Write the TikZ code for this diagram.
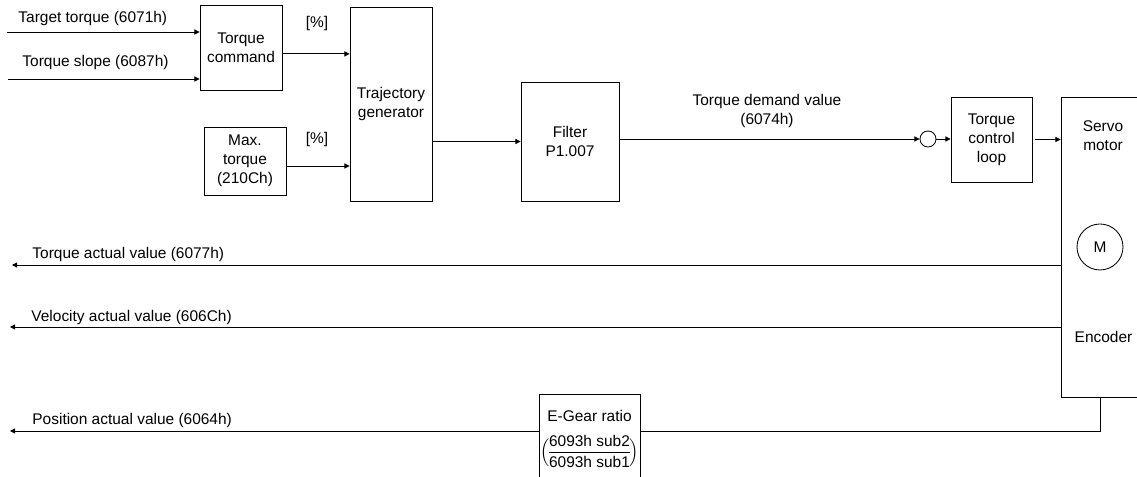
\documentclass[tikz,border=0pt]{standalone}
\usepackage{amsmath}
\usepackage{fontspec}
\setmainfont{Liberation Sans}
\usetikzlibrary{arrows.meta, positioning}
\def\px{0.25mm}

\begin{document}
\begin{tikzpicture}[
    x=\px, y=-\px,
    line width=0.6pt,
    >={Triangle[length=1.3mm,width=1.3mm]},
    every node/.style={font=\fontsize{11}{13.5}\selectfont, align=center, inner sep=0pt},
    block/.style={draw, rectangle, minimum width=20.5mm, minimum height=#1},
    lbl/.style={anchor=base west}
]
\useasboundingbox (0,0) rectangle (1137,477);

% blocks
\node[block=21.25mm] (tcmd) at (241,47.5) {Torque\\command};
\node[block=17mm] (maxt) at (245,161) {Max.\\torque\\(210Ch)};
\node[block=48.5mm] (traj) at (391,104) {Trajectory\\generator};
\node[block=29.75mm, minimum width=24.5mm] (filt) at (570,141.5) {Filter\\P1.007};
\node[draw, circle, minimum size=4mm] (sum) at (928,139) {};
\node[block=21.25mm, minimum width=20.25mm] (tloop) at (991.5,139.5) {Torque\\control\\loop};
\node[block=75mm, minimum width=19.5mm] (servo) at (1100,247) {};
\node (srvl) at (1103,135.5) {Servo\\motor};
\node[draw, circle, minimum size=11.5mm] (mot) at (1100,247) {M};
\node (enc) at (1103.5,337) {Encoder};
\node[block=21.5mm, minimum width=25.25mm] (egear) at (589.5,437) {};
\node[anchor=base] (egl) at (589.5,421) {E-Gear ratio};
\node (egf) at (589.5,451)
    {$\Bigl(\!\dfrac{\text{6093h sub2}}{\text{6093h sub1}}\!\Bigr)$};

% labels
\node[lbl] (ttl) at (18,23) {Target torque (6071h)};
\node[lbl] (tsl) at (22,67) {Torque slope (6087h)};
\node (pc1) at (317,24) {[\%]};
\node (pc2) at (317,140) {[\%]};
\node (tdl) at (767,111) {Torque demand value\\(6074h)};
\node[lbl] (tal) at (32,259) {Torque actual value (6077h)};
\node[lbl] (val) at (31,322) {Velocity actual value (606Ch)};
\node[lbl] (pal) at (32,424) {Position actual value (6064h)};

% free ends
\coordinate (tt) at (7,32);
\coordinate (ts) at (8,79);
\coordinate (ta) at (12,265);
\coordinate (va) at (10,327);
\coordinate (pa) at (10,431);
\coordinate (c1) at ([yshift=-1.6mm]tcmd.east);
\coordinate (c2) at ([yshift=-1.25mm]maxt.east);
\coordinate (c3) at ([xshift=0.75mm]tloop.east);

\draw[->] (tt) -- (tt -| tcmd.west);
\draw[->] (ts) -- (ts -| tcmd.west);
\draw[->] (c1) -- (c1 -| traj.west);
\draw[->] (c2) -- (c2 -| traj.west);
\draw[->] (traj.east |- filt.west) -- (filt.west);
\draw[->] (sum -| filt.east) -- (sum.west);
\draw[->] (sum.east) -- (sum -| tloop.west);
\draw[->] (c3) -- (c3 -| servo.west);
\draw[->] (ta -| servo.west) -- (ta);
\draw[->] (va -| servo.west) -- (va);
\draw (servo.south) |- (pa -| egear.east);
\draw[->] (pa -| egear.west) -- (pa);
\end{tikzpicture}
\end{document}
